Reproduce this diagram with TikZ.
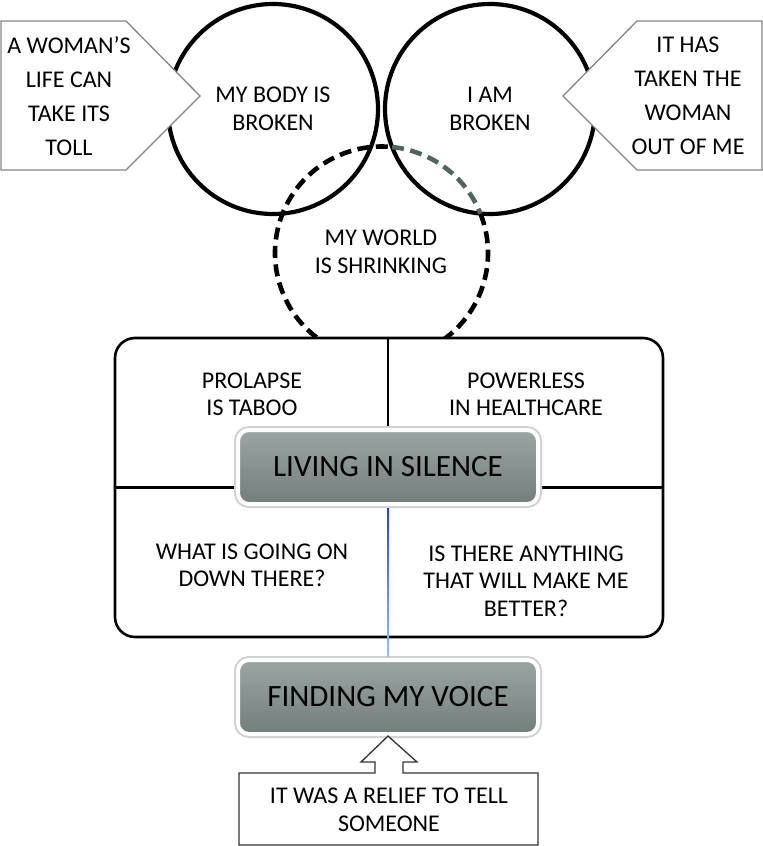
\documentclass[tikz,border=0pt]{standalone}
\usepackage{fontspec}
\setmainfont{Carlito}
\usetikzlibrary{calc}
\definecolor{calloutline}{HTML}{858585}
\definecolor{arcgray}{HTML}{4F6466}
\definecolor{btntop}{HTML}{9BA5A3}
\definecolor{btnbot}{HTML}{737D7B}
\definecolor{bluetop}{HTML}{2E4A94}
\definecolor{bluebot}{HTML}{9CC0F2}
\tikzset{
  txt/.style={align=center, inner sep=0pt, font=\fontsize{24}{27.5}\selectfont},
  calltxt/.style={align=center, inner sep=0pt, font=\fontsize{24}{34}\selectfont},
  ring/.style={circle, draw=black, line width=4.2pt, minimum size=210pt, inner sep=0pt},
  dashring/.style={line width=4.6pt, dash pattern=on 12pt off 6.5pt},
  callout/.style={draw=calloutline, line width=1.3pt, fill=white, line join=miter},
  frame/.style={draw=black, line width=2.6pt, rounded corners=20pt, fill=white, inner sep=0pt},
  divider/.style={draw=black, line width=2.6pt},
  btn/.style={rounded corners=11pt, minimum width=300pt, minimum height=74pt, inner sep=0pt,
    draw=white, line width=4pt, top color=btntop, bottom color=btnbot,
    preaction={draw=black!18, line width=8pt, rounded corners=11pt},
    font=\fontsize{31}{31}\selectfont},
  relieftxt/.style={align=center, inner sep=0pt, font=\fontsize{24}{28}\selectfont},
  reliefline/.style={draw=black!80, line width=1.3pt, fill=white, line join=miter}
}
\begin{document}
\begin{tikzpicture}[x=1pt,y=-1pt]
\useasboundingbox (0,0) rectangle (763,846);

% top circles
\node[ring, txt] (body) at (273,109) {MY BODY IS\\BROKEN};
\node[ring, txt] (broken) at (490,109) {I AM\\BROKEN};

% dashed circle "my world"
\coordinate (wc) at (381.5,253);
\node[txt] (world) at (381,252) {MY WORLD\\IS SHRINKING};
\draw[dashring, black] ([shift={(-21.7:106.5)}]wc) arc[start angle=-21.7, end angle=275.7, radius=106.5];
\draw[dashring, arcgray] ([shift={(275.7:106.5)}]wc) arc[start angle=275.7, end angle=338.3, radius=106.5];

% callouts
\draw[callout] (1,21) -- (126,21) -- (200,96) -- (126,170) -- (1,170) -- cycle;
\node[calltxt] (toll) at (69,96) {A WOMAN’S\\LIFE CAN\\TAKE ITS\\TOLL};
\draw[callout] (762,21) -- (637,21) -- (563,96) -- (637,170) -- (762,170) -- cycle;
\node[calltxt] (taken) at (688,96) {IT HAS\\TAKEN THE\\WOMAN\\OUT OF ME};

% main frame
\node[frame, minimum width=548pt, minimum height=299pt] (frame) at (389,487.5) {};
\draw[divider] (frame.north -| 388,0) -- (388,470);
\draw[divider] (frame.west) -- (frame.east);

\node[txt] (taboo) at (252,394.5) {PROLAPSE\\IS TABOO};
\node[txt] (powerless) at (526,394.5) {POWERLESS\\IN HEALTHCARE};
\node[txt] (going) at (252,565.5) {WHAT IS GOING ON\\DOWN THERE?};
\node[txt] (better) at (526,581) {IS THERE ANYTHING\\THAT WILL MAKE ME\\BETTER?};

% buttons
\node[btn] (living) at (388,467) {LIVING IN SILENCE};
\node[btn] (finding) at (388,697) {FINDING MY VOICE};

% blue connector
\shade[top color=bluetop, bottom color=bluebot] ($(living.south)+(-1,2)$) rectangle ($(finding.north)+(1,-2)$);

% relief box with arrow
\draw[reliefline] (239,773) -- (375,773) -- (375,762) -- (361,762) -- (finding.south)
  -- (417,762) -- (403,762) -- (403,773) -- (538,773) -- (538,845) -- (239,845) -- cycle;
\node[relieftxt] (relief) at (389,810) {IT WAS A RELIEF TO TELL\\SOMEONE};
\end{tikzpicture}
\end{document}
